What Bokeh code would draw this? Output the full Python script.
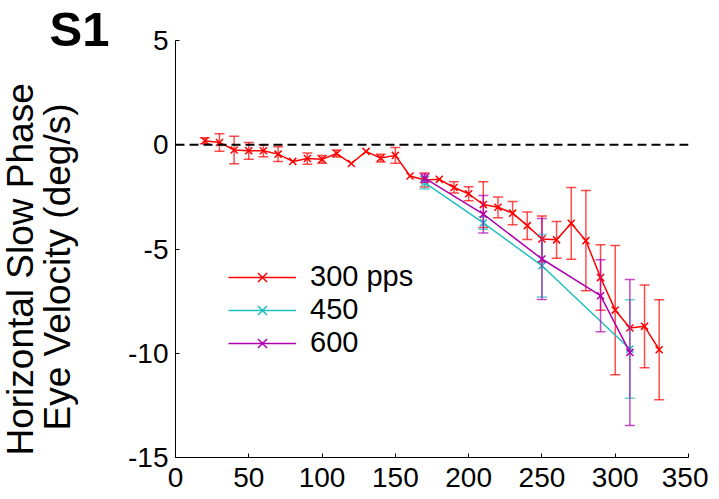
from bokeh.plotting import figure
from bokeh.models import Range1d, Legend, LegendItem, Span, FixedTicker, Title
from bokeh.embed import file_html
from bokeh.resources import INLINE

# ---- data ----
x_300 = [20, 30, 40, 50, 60, 70, 80, 90, 100, 110, 120, 130, 140, 150, 160, 170,
         180, 190, 200, 210, 220, 230, 240, 250, 260, 270, 280, 290, 300, 310, 320, 330]
y_300 = [0.19, 0.11, -0.25, -0.29, -0.29, -0.45, -0.80, -0.66, -0.70, -0.42, -0.90, -0.32,
         -0.64, -0.51, -1.50, -1.69, -1.66, -2.05, -2.35, -2.87, -3.00, -3.28, -3.88, -4.52,
         -4.56, -3.77, -4.60, -6.37, -7.93, -8.79, -8.71, -9.83]
e_300 = [0.14, 0.42, 0.66, 0.40, 0.29, 0.35, 0.0, 0.27, 0.19, 0.17, 0.0, 0.0,
         0.19, 0.38, 0.0, 0.34, 0.0, 0.27, 0.34, 1.10, 0.50, 0.56, 0.66, 1.10,
         0.88, 1.72, 2.40, 1.57, 3.10, 0.0, 1.98, 2.40]

x_450 = [170, 210, 250, 310]
y_450 = [-1.82, -3.75, -5.80, -9.80]
e_450 = [0.30, 0.30, 1.50, 2.36]

x_600 = [170, 210, 250, 290, 310]
y_600 = [-1.60, -3.33, -5.48, -7.24, -9.96]
e_600 = [0.20, 0.90, 1.94, 1.73, 3.50]

series_labels = ["300 pps", "450", "600"]
series_colors = ["#ff0000", "#1fbfbf", "#b000b0"]

x_ticks = [0, 50, 100, 150, 200, 250, 300, 350]
y_ticks = [-15, -10, -5, 0, 5]

FONT = "Liberation Sans"

p = figure(frame_width=513, frame_height=417,
           x_range=Range1d(0, 350), y_range=Range1d(-15, 5),
           output_backend="svg", toolbar_location=None,
           min_border_left=175, min_border_top=40, min_border_right=20, min_border_bottom=34)
p.grid.visible = False
p.outline_line_color = None
p.background_fill_color = "white"
p.border_fill_color = "white"

# title S1
p.title.text = "S1"
p.title.text_font = FONT
p.title.text_font_size = "49px"
p.title.text_font_style = "bold"
p.title.text_color = "black"
p.title.align = "left"
p.title.offset = -126
p.title.standoff = -30

for ax, ticks in ((p.xaxis, x_ticks), (p.yaxis, y_ticks)):
    ax.ticker = FixedTicker(ticks=ticks)
    ax.major_label_overrides = {t: str(t) for t in ticks}
    ax.major_tick_in = 4
    ax.major_tick_out = 0
    ax.minor_tick_in = 0
    ax.minor_tick_out = 0
    ax.axis_line_color = "black"
    ax.major_tick_line_color = "black"
    ax.major_label_text_font = FONT
    ax.major_label_text_font_size = "28px"
    ax.major_label_text_color = "black"
p.xaxis.major_label_standoff = 10
p.yaxis.major_label_standoff = 7

# y label, two lines, as left-side titles (a blank spacer title keeps a gap from the ticks)
spacer = Title(text=" ", text_font_size="10px", standoff=20)
t2 = Title(text="Eye Velocity (deg/s)", align="left", offset=27, standoff=30,
           text_font=FONT, text_font_size="37px", text_font_style="normal", text_color="black")
t1 = Title(text="Horizontal Slow Phase", align="left", offset=2, standoff=-42,
           text_font=FONT, text_font_size="37px", text_font_style="normal", text_color="black")
p.add_layout(spacer, "left")
p.add_layout(t2, "left")
p.add_layout(t1, "left")

# zero dashed line
p.add_layout(Span(location=0, dimension="width", line_color="black",
                  line_width=2, line_dash="9 5"))

items = []
all_series = [(x_300, y_300, e_300), (x_450, y_450, e_450), (x_600, y_600, e_600)]
for (xs, ys, es), col, lab in zip(all_series, series_colors, series_labels):
    lo = [y - e for y, e in zip(ys, es)]
    hi = [y + e for y, e in zip(ys, es)]
    p.segment(x0=xs, y0=lo, x1=xs, y1=hi, line_color=col, line_alpha=0.7, line_width=1.5)
    cx = [x for x, e in zip(xs, es) if e > 0]
    clo = [y - e for y, e in zip(ys, es) if e > 0]
    chi = [y + e for y, e in zip(ys, es) if e > 0]
    p.scatter(x=cx + cx, y=clo + chi, marker="dash", size=10,
              line_color=col, line_alpha=0.7, line_width=1.5)
    lr = p.line(xs, ys, line_color=col, line_width=1.5)
    mr = p.scatter(xs, ys, marker="x", size=10, line_color=col, line_width=1.5)
    items.append(LegendItem(label=lab, renderers=[lr, mr]))

legend = Legend(items=items, location=(53, 98), glyph_width=68, glyph_height=32,
                label_standoff=14, label_text_font=FONT, label_text_font_size="29px",
                label_text_color="black", padding=0, margin=0, spacing=0,
                border_line_alpha=0, background_fill_alpha=0)
p.add_layout(legend)

open("out.html", "w").write(file_html(p, INLINE))
